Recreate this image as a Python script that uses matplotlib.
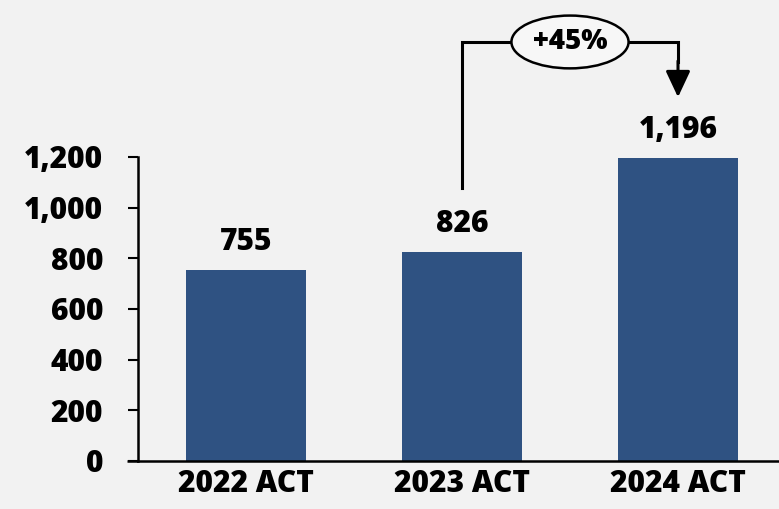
import matplotlib
matplotlib.use('Agg')
import matplotlib.pyplot as plt

categories = ['2022 ACT', '2023 ACT', '2024 ACT']
values = [755, 826, 1196]
yticks = [0, 200, 400, 600, 800, 1000, 1200]

plt.rcParams['font.family'] = ['Open Sans', 'DejaVu Sans']

bg = '#f2f2f2'
bar_color = '#2f5282'
fs = 21.5
fw = 800

fig = plt.figure(figsize=(7.79, 5.09), dpi=100, facecolor=bg)
ax = fig.add_axes([138 / 779, 48 / 509, 648 / 779, 304 / 509])
ax.set_facecolor(bg)

x = list(range(len(categories)))
ax.bar(x, values, width=0.555, color=bar_color, zorder=2)

ax.set_xlim(-0.5, 2.5)
ax.set_ylim(0, 1200)
ax.set_yticks(yticks)
ax.set_yticklabels([f'{v:,}' for v in yticks], fontsize=fs, fontweight=fw)
ax.set_xticks(x)
ax.set_xticklabels(categories, fontsize=fs, fontweight=fw)

for s in ['top', 'right']:
    ax.spines[s].set_visible(False)
for s in ['left', 'bottom']:
    ax.spines[s].set_linewidth(1.8)
ax.tick_params(axis='y', length=7, width=1.5, pad=18)
ax.tick_params(axis='x', length=0, pad=6)
# bottom axis line also reaches out past the y spine like the tick
ax.plot([-0.55, -0.5], [0, 0], color='black', lw=1.8, clip_on=False, solid_capstyle='butt')

# value labels
for xi, v in zip(x, values):
    ax.text(xi, v + 50, f'{v:,}', ha='center', va='bottom', fontsize=fs, fontweight=fw)

# growth bracket 2023 -> 2024
growth = values[2] / values[1] - 1
top_y = values[2] * 1.383
ax.plot([1, 1, 2, 2], [values[1] + 252, top_y, top_y, top_y - 80],
        color='black', lw=2.2, clip_on=False, solid_joinstyle='miter')
ax.annotate('', xy=(2, top_y - 218), xytext=(2, top_y - 75),
            arrowprops=dict(arrowstyle='-|>,head_length=1.6,head_width=0.75',
                            color='black', lw=2.2, shrinkA=0, shrinkB=0),
            annotation_clip=False)
ax.text(1.5, top_y, f'+{growth:.0%}', ha='center', va='center', fontsize=20,
        fontweight=fw,
        bbox=dict(boxstyle='ellipse,pad=0.15', fc='#f7f7f7', ec='black', lw=1.8))

fig.savefig('out.png', dpi=100, facecolor=bg)
